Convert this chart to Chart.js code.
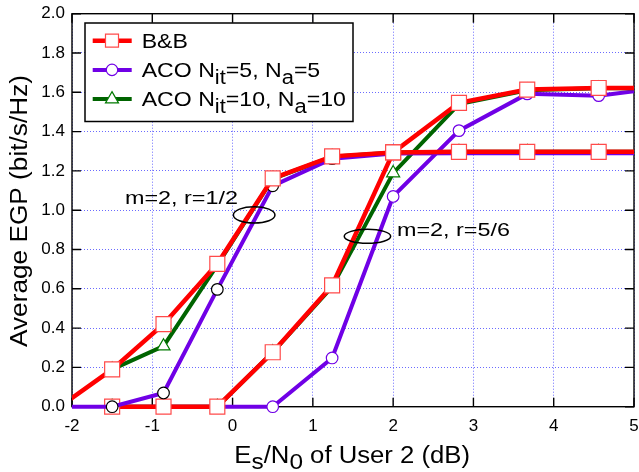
<!DOCTYPE html>
<html><head><meta charset="utf-8">
<script src="https://cdn.jsdelivr.net/npm/chart.js@4/dist/chart.umd.min.js"></script>
<style>html,body{margin:0;padding:0;background:#fff}#wrap{width:639px;height:472px}</style>
</head><body><div id="wrap"><canvas id="c" width="639" height="472"></canvas></div>
<script>
// ---- data ----
const snr = [-2.12, -1.5, -0.86, -0.19, 0.5, 1.24, 2.0, 2.82, 3.67, 4.56, 5.49];
const bbHalf    = [0.01, 0.19, 0.42, 0.727, 1.162, 1.274, 1.294, 1.297, 1.297, 1.297, 1.297];
const aco5Half  = [0.0,  0.0,  0.07, 0.597, 1.124, 1.262, 1.288, 1.290, 1.290, 1.290, 1.290];
const aco10Half = [null, 0.19, 0.308, 0.72, 1.16, 1.272, 1.294, 1.297, 1.297, 1.297, 1.297];
const bbFive    = [null, 0, 0, 0, 0.277, 0.617, 1.294, 1.546, 1.614, 1.622, 1.622];
const aco5Five  = [null, 0, 0, 0, 0, 0.248, 1.07, 1.405, 1.592, 1.583, 1.63];
const aco10Five = [null, 0, 0, 0, 0.277, 0.61, 1.189, 1.54, 1.61, 1.62, 1.622];
const xTicks = [-2, -1, 0, 1, 2, 3, 4, 5];
const yTicks = [0, 0.2, 0.4, 0.6, 0.8, 1.0, 1.2, 1.4, 1.6, 1.8, 2.0];
const xTitle = [['E',0],['s',1],['/N',0],['0',1],[' of User 2 (dB)',0]];
const yTitle = [['Average EGP (bit/s/Hz)',0]];
const legendNames = [
  [['B&B',0]],
  [['ACO N',0],['it',1],['=5, N',0],['a',1],['=5',0]],
  [['ACO N',0],['it',1],['=10, N',0],['a',1],['=10',0]]
];
const noteHalf = 'm=2, r=1/2';
const noteFive = 'm=2, r=5/6';

// ---- styles ----
const FONT = '"Liberation Sans", Arial, Helvetica, sans-serif';
const RED = '#ff0000', RED_EDGE = '#ff4a4a', PURPLE = '#7000e6', GREEN = '#006400', GREEN_EDGE = '#007a00';

function pts(arr){ return snr.map((x,i)=>({x:x, y:arr[i]})).filter(p=>p.y!==null); }
const CLIP = {left:0, right:0, top:20, bottom:20};
function ds(label, arr, color, width, style, radius, edge){
  return {label, data: pts(arr), borderColor: color, borderWidth: width, tension: 0,
    pointStyle: style, pointRadius: radius, pointBorderColor: edge, pointBackgroundColor: '#fff',
    pointBorderWidth: 1.2, clip: CLIP, fill: false};
}

function richWidth(ctx, parts, size){
  let w = 0;
  parts.forEach(p => { ctx.font = (p[1] ? size*0.95 : size) + 'px ' + FONT; w += ctx.measureText(p[0]).width; });
  return w;
}
function drawRich(ctx, parts, x, y, size, o){
  o = o || {};
  const nat = richWidth(ctx, parts, size);
  const st = o.width ? o.width / nat : (o.stretch || 1);
  ctx.save();
  ctx.translate(x, y);
  if (o.rotate) ctx.rotate(-Math.PI/2);
  ctx.scale(st, 1);
  ctx.fillStyle = '#000';
  ctx.textBaseline = 'alphabetic';
  ctx.textAlign = 'left';
  let cx = o.align === 'center' ? -nat/2 : 0;
  parts.forEach(p => {
    const s = p[1] ? size*0.95 : size;
    ctx.font = s + 'px ' + FONT;
    ctx.fillText(p[0], cx, p[1] ? size*0.3 : 0);
    cx += ctx.measureText(p[0]).width;
  });
  ctx.restore();
}
function marker(ctx, style, x, y, r, edge){
  ctx.save();
  ctx.fillStyle = '#fff'; ctx.strokeStyle = edge; ctx.lineWidth = 1.2;
  ctx.beginPath();
  if (style === 'rect') { const h = r*Math.SQRT1_2; ctx.rect(x-h, y-h, 2*h, 2*h); }
  else if (style === 'circle') { ctx.arc(x, y, r, 0, Math.PI*2); }
  else { for (let k=0;k<3;k++){ const a = k*2*Math.PI/3; const px = x+Math.sin(a)*r, py = y-Math.cos(a)*r; k?ctx.lineTo(px,py):ctx.moveTo(px,py);} ctx.closePath(); }
  ctx.fill(); ctx.stroke();
  ctx.restore();
}

const decor = {
  id: 'decor',
  beforeDatasetsDraw(chart){
    const {ctx, chartArea: a, scales: {x, y}} = chart;
    ctx.save();
    ctx.strokeStyle = '#000'; ctx.lineWidth = 1.4;
    ctx.strokeRect(a.left, a.top, a.right-a.left, a.bottom-a.top);
    ctx.beginPath();
    y.ticks.forEach(t => { const py = y.getPixelForValue(t.value);
      ctx.moveTo(a.left, py); ctx.lineTo(a.left+9, py); ctx.moveTo(a.right, py); ctx.lineTo(a.right-9, py); });
    x.ticks.forEach(t => { const px = x.getPixelForValue(t.value);
      ctx.moveTo(px, a.bottom); ctx.lineTo(px, a.bottom-9); ctx.moveTo(px, a.top); ctx.lineTo(px, a.top+9); });
    ctx.stroke();
    ctx.restore();
  },
  afterDatasetsDraw(chart){
    const {ctx, chartArea: a, scales: {x, y}} = chart;
    // annotations
    ctx.save();
    ctx.strokeStyle = '#000'; ctx.lineWidth = 1.5;
    ctx.beginPath(); ctx.ellipse(x.getPixelForValue(0.269), y.getPixelForValue(0.976), 20.8, 8.2, 0, 0, Math.PI*2); ctx.stroke();
    ctx.beginPath(); ctx.ellipse(x.getPixelForValue(1.680), y.getPixelForValue(0.867), 23.2, 7, 0, 0, Math.PI*2); ctx.stroke();
    ctx.restore();
    drawRich(ctx, [[noteHalf,0]], x.getPixelForValue(-1.34), y.getPixelForValue(1.032), 19, {width: 113});
    drawRich(ctx, [[noteFive,0]], x.getPixelForValue(2.048), y.getPixelForValue(0.870), 19, {width: 113});
    // legend
    const L = 85, T = 23, R = 353, B = 121.5;
    ctx.save();
    ctx.fillStyle = '#fff'; ctx.fillRect(L, T, R-L, B-T);
    ctx.strokeStyle = '#000'; ctx.lineWidth = 1.5; ctx.strokeRect(L, T, R-L, B-T);
    const items = [
      {c: RED, w: 4.5, s: 'rect', r: 9.2, e: RED_EDGE},
      {c: PURPLE, w: 4, s: 'circle', r: 5.7, e: PURPLE},
      {c: GREEN, w: 4, s: 'triangle', r: 7.5, e: GREEN_EDGE}
    ];
    items.forEach((it, i) => {
      const cy = 40.7 + i*29.2;
      ctx.strokeStyle = it.c; ctx.lineWidth = it.w;
      ctx.beginPath(); ctx.moveTo(92.7, cy); ctx.lineTo(131.7, cy); ctx.stroke();
      marker(ctx, it.s, 112, cy, it.r, it.e);
      drawRich(ctx, legendNames[i], 141.7, cy + 7.3, 21, {stretch: 1.1});
    });
    ctx.restore();
  },
  afterDraw(chart){
    const ctx = chart.ctx;
    drawRich(ctx, xTitle, 352.2, 462.5, 23, {align: 'center', width: 235.7});
    drawRich(ctx, yTitle, 26.5, 211, 23, {align: 'center', width: 272, rotate: true});
  }
};

Chart.defaults.font.family = FONT;
new Chart(document.getElementById('c'), {
  type: 'line',
  data: { datasets: [
    ds('B&B, r=1/2', bbHalf, RED, 4.5, 'rect', 10.6, RED_EDGE),
    ds('ACO Nit=5, Na=5, r=1/2', aco5Half, PURPLE, 4, 'circle', 5.8, '#000'),
    ds('B&B, r=5/6', bbFive, RED, 4.5, 'rect', 10.6, RED_EDGE),
    ds('ACO Nit=10, Na=10, r=1/2', aco10Half, GREEN, 4, 'triangle', 7.5, GREEN_EDGE),
    ds('ACO Nit=10, Na=10, r=5/6', aco10Five, GREEN, 4, 'triangle', 7.5, GREEN_EDGE),
    ds('ACO Nit=5, Na=5, r=5/6', aco5Five, PURPLE, 4, 'circle', 5.8, PURPLE)
  ]},
  options: {
    responsive: false, animation: false, devicePixelRatio: 1, events: [],
    layout: { autoPadding: false, padding: {top: 13.7, right: 5, bottom: 0, left: 0} },
    plugins: { legend: {display: false}, tooltip: {enabled: false} },
    scales: {
      x: { type: 'linear', min: -2, max: 5,
        afterBuildTicks: s => { s.ticks = xTicks.map(v => ({value: v})); },
        afterFit: s => { s.height = 65.3; s.paddingLeft = 0; s.paddingRight = 0; },
        ticks: { color: '#000', font: {size: 17, family: FONT}, padding: 9, maxRotation: 0,
          callback: v => String(v) },
        grid: { color: '#6b6bff', lineWidth: 1, drawTicks: false },
        border: { display: false, dash: [1, 2] } },
      y: { type: 'linear', min: 0, max: 2,
        afterBuildTicks: s => { s.ticks = yTicks.map(v => ({value: v})); },
        afterFit: s => { s.width = 72; s.paddingTop = 0; s.paddingBottom = 0; },
        ticks: { color: '#000', font: {size: 17, family: FONT}, padding: 7,
          callback: v => Number(v).toFixed(1) },
        grid: { color: '#6b6bff', lineWidth: 1, drawTicks: false },
        border: { display: false, dash: [1, 2] } }
    }
  },
  plugins: [decor]
});
</script></body></html>
